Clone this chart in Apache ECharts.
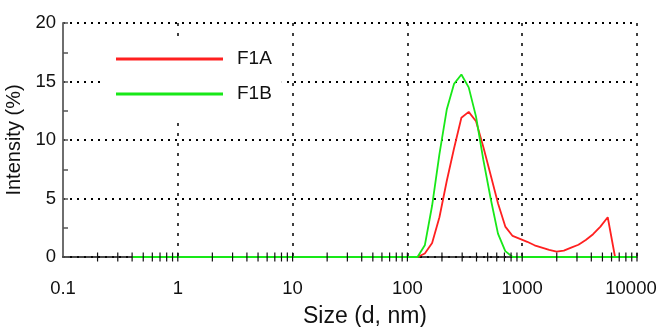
<!DOCTYPE html>
<html>
<head>
<meta charset="utf-8">
<script src="https://cdn.jsdelivr.net/npm/echarts@6/dist/echarts.min.js"></script>
<style>
  html, body { margin: 0; padding: 0; background: #fff; }
  #chart { width: 659px; height: 327px; }
</style>
</head>
<body>
<div id="chart"></div>
<script>
// size bins (d, nm)
var sizes = [0.4, 0.4632, 0.5365, 0.6213, 0.7195, 0.8332, 0.9649, 1.117, 1.294, 1.499,
  1.736, 2.010, 2.328, 2.696, 3.122, 3.615, 4.187, 4.849, 5.615, 6.503, 7.531, 8.721, 10.10,
  11.70, 13.54, 15.69, 18.17, 21.04, 24.36, 28.21, 32.67, 37.84, 43.82, 50.75, 58.77, 68.06, 78.82, 91.28,
  105.7, 122.4, 141.8, 164.2, 190.1, 220.2, 255.0, 295.3, 342.0, 396.1, 458.7, 531.2, 615.1, 712.4, 825.0, 955.4, 1106,
  1281, 1484, 1718, 1990, 2305, 2669, 3091, 3580, 4145, 4801, 5560, 6439, 7456, 8635, 10000];

// intensity (%)
var f1a = [0, 0, 0, 0, 0, 0, 0, 0, 0, 0,
  0, 0, 0, 0, 0, 0, 0, 0, 0, 0, 0, 0, 0,
  0, 0, 0, 0, 0, 0, 0, 0, 0, 0, 0, 0, 0, 0, 0,
  0, 0, 0.3, 1.2, 3.4, 6.5, 9.3, 11.9, 12.4, 11.6, 9.4, 7.0, 4.6, 2.6, 1.8, 1.55, 1.3,
  1.0, 0.8, 0.6, 0.45, 0.55, 0.8, 1.05, 1.45, 1.95, 2.6, 3.4, 0, 0, 0, 0];

var f1b = [0, 0, 0, 0, 0, 0, 0, 0, 0, 0,
  0, 0, 0, 0, 0, 0, 0, 0, 0, 0, 0, 0, 0,
  0, 0, 0, 0, 0, 0, 0, 0, 0, 0, 0, 0, 0, 0, 0,
  0, 0, 1.0, 4.4, 8.8, 12.6, 14.8, 15.6, 14.5, 12.0, 8.3, 5.0, 2.0, 0.5, 0, 0, 0,
  0, 0, 0, 0, 0, 0, 0, 0, 0, 0, 0, 0, 0, 0, 0];

var seriesNames = ['F1A', 'F1B'];
var seriesColors = ['#ff2020', '#18e818'];
var xTickLabels = ['0.1', '1', '10', '100', '1000', '10000'];

function pairs(xs, ys){
    var out = [];
    for(var i=0;i<xs.length;i++){
        out.push([xs[i], ys[i]]);
    }
    return out;
}

// log ticks 2..9 inside each decade, plus the decades
function logTicks(){
    var out = [];
    for(var d=0.1; d<5000; d*=10){
        for(var k=2;k<=10;k++){
            out.push([+(d*k).toPrecision(6), 0]);
        }
    }
    return out;
}

var font = "'Liberation Sans', Arial, Helvetica, sans-serif";
var chart = echarts.init(document.getElementById('chart'));

var option = {
    animation: false,
    backgroundColor: '#fff',
    textStyle: { fontFamily: font },
    grid: { left: 63, right: 22, top: 23, bottom: 70, outerBoundsMode: 'none', containLabel: false },
    legend: {
        data: seriesNames,
        orient: 'vertical',
        left: 104,
        top: 37,
        padding: [12, 10, 12, 12],
        backgroundColor: '#fff',
        icon: 'rect',
        itemWidth: 107,
        itemHeight: 3,
        itemGap: 15,
        textStyle: { fontFamily: font, fontSize: 19, color: '#111', lineHeight: 20, padding: [0, 0, 0, 9] }
    },
    xAxis: {
        type: 'log',
        logBase: 10,
        min: 0.1,
        max: 10000,
        name: 'Size (d, nm)',
        nameLocation: 'middle',
        nameGap: 48,
        nameTextStyle: { fontFamily: font, fontSize: 23, color: '#111', padding: [0, 0, 0, 30] },
        axisLine: { lineStyle: { color: '#111', width: 1.5 } },
        axisTick: { show: false },
        axisLabel: {
            fontFamily: font, fontSize: 18.5, color: '#111', margin: 22,
            formatter: function(v){
                var s = String(+v.toPrecision(6));
                if(xTickLabels.indexOf(s) < 0) return '';
                return s === '10000' ? '{r|' + s + '}' : s;
            },
            rich: { r: { fontFamily: font, fontSize: 18.5, color: '#111', padding: [0, 12, 0, 0] } }
        },
        splitLine: { show: true, lineStyle: { color: '#000', width: 1.5, type: [3, 7] } }
    },
    yAxis: {
        type: 'value',
        min: 0,
        max: 20,
        interval: 5,
        name: 'Intensity (%)',
        nameLocation: 'middle',
        nameGap: 34,
        nameTextStyle: { fontFamily: font, fontSize: 20, color: '#111' },
        axisLine: { show: true, lineStyle: { color: '#6e6e6e', width: 2 } },
        axisTick: { show: true, inside: true, length: 5, lineStyle: { color: '#555', width: 1.5 } },
        minorTick: { show: true, splitNumber: 2, length: 5, lineStyle: { color: '#555', width: 1.5 } },
        axisLabel: { fontFamily: font, fontSize: 18.5, color: '#111', margin: 7 },
        splitLine: { show: true, lineStyle: { color: '#000', width: 2, type: [2, 5] } }
    },
    series: [
        {
            name: seriesNames[0],
            type: 'line',
            data: pairs(sizes, f1a),
            showSymbol: false,
            clip: false,
            color: seriesColors[0],
            lineStyle: { width: 1.8, color: seriesColors[0] },
            z: 2
        },
        {
            name: seriesNames[1],
            type: 'line',
            data: pairs(sizes, f1b),
            showSymbol: false,
            clip: false,
            color: seriesColors[1],
            lineStyle: { width: 1.8, color: seriesColors[1] },
            z: 3
        },
        {
            name: 'ticks',
            type: 'custom',
            silent: true,
            z: 5,
            data: logTicks(),
            renderItem: function(params, api){
                var p = api.coord([api.value(0), 0]);
                return {
                    type: 'line',
                    shape: { x1: p[0], y1: p[1] - 4.5, x2: p[0], y2: p[1] + 4.5 },
                    style: { stroke: '#111', lineWidth: 1.2 }
                };
            }
        }
    ]
};

chart.setOption(option);
</script>
</body>
</html>
